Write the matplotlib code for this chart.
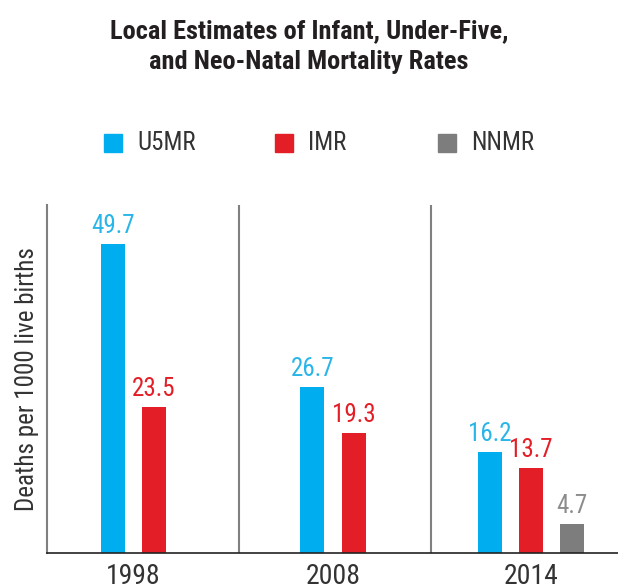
import matplotlib
matplotlib.use('Agg')
import matplotlib.pyplot as plt
import numpy as np

plt.rcParams['font.family'] = ['Roboto Condensed', 'Archivo Narrow', 'DejaVu Sans']

years = ['1998', '2008', '2014']
series = ['U5MR', 'IMR', 'NNMR']
u5mr = [49.7, 26.7, 16.2]
imr = [23.5, 19.3, 13.7]
nnmr = [None, None, 4.7]

colors = {'U5MR': '#00aeef', 'IMR': '#e31e26', 'NNMR': '#7d7d7d'}
label_colors = {'U5MR': '#29b5e8', 'IMR': '#e31e26', 'NNMR': '#8c8c8c'}

fig = plt.figure(figsize=(6.18, 5.86), dpi=100)
ax = fig.add_axes([0.076, 0.0563, 0.924, 0.594])

centers = np.array([0.45, 1.49, 2.52])
w = 0.125
values = {'U5MR': u5mr, 'IMR': imr, 'NNMR': nnmr}

for gi, c in enumerate(centers):
    present = [s for s in series if values[s][gi] is not None]
    step = 0.215
    offs = (np.arange(len(present)) - (len(present) - 1) / 2) * step
    for s, o in zip(present, offs):
        v = values[s][gi]
        ax.bar(c + o, v, width=w, color=colors[s], zorder=2)
        ax.text(c + o, v + 1.0, f'{v:.1f}', ha='center', va='bottom',
                fontsize=18, color=label_colors[s])

for xs in [1, 2]:
    ax.axvline(xs, color='#808080', lw=1.5, zorder=1)

ax.set_xlim(0, 2.974)
ax.set_ylim(0, 56)
ax.set_xticks(centers)
ax.set_xticklabels(years, fontsize=20, color='#333333')
ax.tick_params(axis='x', length=0, pad=7)
ax.set_yticks([])
ax.spines['top'].set_visible(False)
ax.spines['right'].set_visible(False)
ax.spines['left'].set_color('#808080')
ax.spines['left'].set_linewidth(1.5)
ax.spines['bottom'].set_color('#222222')
ax.spines['bottom'].set_linewidth(1.2)
ax.set_ylabel('Deaths per 1000 live births', fontsize=18, color='#333333', labelpad=6)

fig.text(0.5, 0.968, 'Local Estimates of Infant, Under-Five,\nand Neo-Natal Mortality Rates',
         ha='center', va='top', fontsize=19, fontweight='bold', color='#231f20',
         linespacing=1.4)

# legend drawn by hand
leg_x = [104, 275, 438]
for s, lx in zip(series, leg_x):
    fig.patches.append(plt.Rectangle((lx / 618, 1 - 152 / 586), 18 / 618, 18 / 586,
                                     transform=fig.transFigure, color=colors[s]))
    fig.text((lx + 33) / 618, 1 - 143 / 586, s, ha='left', va='center',
             fontsize=18, color='#333333')

fig.savefig('out.png', dpi=100)
